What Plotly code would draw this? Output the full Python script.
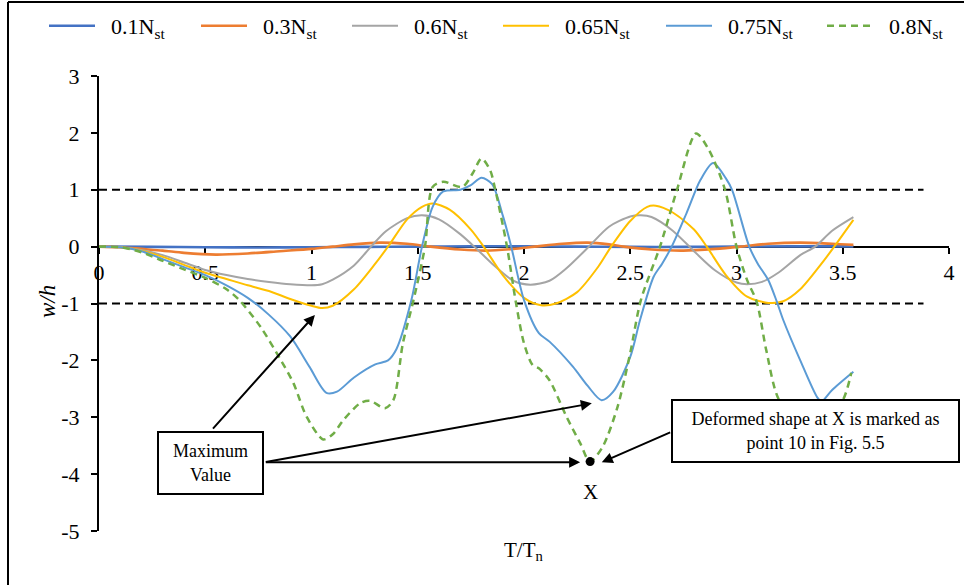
import plotly.graph_objects as go

FONT = "Liberation Serif"

# ---------------- data ----------------
x_01 = [0, 0.25, 0.5, 0.75, 1.0, 1.25, 1.5, 1.75, 2.0, 2.25, 2.5, 2.75, 3.0, 3.25, 3.55]
y_01 = [0, -0.005, -0.01, -0.015, -0.01, -0.005, 0, 0.005, 0.005, 0, -0.005, -0.005, 0, 0.005, 0.005]

x_03 = [0, 0.1, 0.2, 0.3, 0.4, 0.55, 0.7, 0.85, 1.0, 1.1, 1.2, 1.32, 1.45, 1.56, 1.7, 1.82,
        1.95, 2.05, 2.18, 2.3, 2.4, 2.47, 2.6, 2.75, 2.9, 3.02, 3.15, 3.3, 3.45, 3.55]
y_03 = [0, -0.01, -0.04, -0.07, -0.11, -0.14, -0.12, -0.08, -0.04, 0, 0.04, 0.07, 0.05, 0, -0.05, -0.07,
        -0.04, 0, 0.05, 0.07, 0.04, 0, -0.05, -0.07, -0.04, 0, 0.05, 0.07, 0.05, 0.03]

x_06 = [0, 0.1, 0.2, 0.3, 0.4, 0.5, 0.6, 0.7, 0.8, 0.9, 1.0, 1.05, 1.1, 1.2, 1.28, 1.35, 1.45, 1.52,
        1.6, 1.7, 1.78, 1.85, 1.95, 2.03, 2.12, 2.2, 2.3, 2.4, 2.5, 2.55, 2.6, 2.7, 2.8, 2.9, 3.0,
        3.05, 3.12, 3.2, 3.3, 3.37, 3.45, 3.55]
y_06 = [0, -0.01, -0.06, -0.15, -0.28, -0.41, -0.5, -0.57, -0.62, -0.66, -0.68, -0.66, -0.58, -0.33,
        0, 0.27, 0.5, 0.55, 0.48, 0.22, -0.05, -0.3, -0.6, -0.67, -0.6, -0.38, -0.02, 0.35, 0.53,
        0.55, 0.52, 0.28, -0.08, -0.42, -0.63, -0.66, -0.62, -0.45, -0.15, 0, 0.28, 0.52]

x_065 = [0, 0.1, 0.2, 0.3, 0.4, 0.5, 0.6, 0.7, 0.8, 0.9, 1.0, 1.05, 1.1, 1.2, 1.3, 1.36, 1.45, 1.52,
         1.57, 1.65, 1.75, 1.81, 1.9, 2.0, 2.08, 2.15, 2.25, 2.35, 2.41, 2.5, 2.58, 2.62, 2.7, 2.8,
         2.86, 2.95, 3.05, 3.15, 3.22, 3.3, 3.4, 3.46, 3.55]
y_065 = [0, -0.01, -0.07, -0.18, -0.32, -0.46, -0.57, -0.68, -0.78, -0.92, -1.04, -1.08, -1.04, -0.75,
         -0.3, 0, 0.48, 0.7, 0.76, 0.65, 0.3, 0, -0.5, -0.9, -1.03, -1.0, -0.8, -0.35, 0, 0.45, 0.7,
         0.72, 0.6, 0.3, 0, -0.5, -0.88, -0.99, -0.96, -0.75, -0.3, 0, 0.47]

x_075 = [0, 0.1, 0.2, 0.3, 0.4, 0.5, 0.6, 0.7, 0.8, 0.9, 0.99, 1.07, 1.12, 1.2, 1.3, 1.36, 1.4, 1.47,
         1.52, 1.57, 1.62, 1.7, 1.75, 1.8, 1.85, 1.9, 1.94, 2.0, 2.07, 2.12, 2.23, 2.3, 2.365, 2.42,
         2.5, 2.546, 2.61, 2.65, 2.695, 2.765, 2.83, 2.89, 2.95, 2.98, 3.06, 3.1, 3.15, 3.19, 3.22,
         3.3, 3.38, 3.4, 3.45, 3.55]
y_075 = [0, -0.01, -0.08, -0.22, -0.36, -0.5, -0.68, -0.9, -1.2, -1.58, -2.11, -2.57, -2.55, -2.3,
         -2.07, -2.0, -1.8, -0.94, 0, 0.7, 0.97, 1.0, 1.08, 1.21, 1.1, 0.55, 0, -0.94, -1.52, -1.67,
         -2.11, -2.45, -2.7, -2.55, -1.94, -1.29, -0.53, -0.3, 0, 0.59, 1.17, 1.47, 1.2, 0.99, 0,
         -0.3, -0.59, -0.97, -1.29, -2.0, -2.65, -2.72, -2.52, -2.2]

x_08 = [0, 0.1, 0.2, 0.3, 0.4, 0.5, 0.6, 0.66, 0.76, 0.85, 0.915, 0.977, 1.055, 1.1, 1.15, 1.23,
        1.275, 1.346, 1.385, 1.43, 1.48, 1.534, 1.57, 1.62, 1.71, 1.76, 1.8, 1.84, 1.865, 1.92,
        1.96, 2.0, 2.04, 2.07, 2.12, 2.2, 2.265, 2.31, 2.37, 2.44, 2.5, 2.55, 2.64, 2.72, 2.81,
        2.87, 2.946, 3.0, 3.05, 3.095, 3.14, 3.197, 3.3, 3.4, 3.5, 3.54]
y_08 = [0, -0.01, -0.1, -0.25, -0.4, -0.55, -0.75, -0.94, -1.41, -1.96, -2.4, -2.99, -3.39, -3.3,
        -3.05, -2.75, -2.71, -2.84, -2.7, -1.7, -0.94, 0, 1.05, 1.14, 1.05, 1.3, 1.55, 1.35, 1.0, 0,
        -0.94, -1.7, -2.08, -2.14, -2.35, -2.99, -3.46, -3.78, -3.52, -2.82, -1.87, -0.94, 0, 1.0,
        1.99, 1.7, 1.0, 0, -0.59, -0.97, -1.82, -2.67, -3.15, -3.1, -2.7, -2.22]

names = ["0.1N<sub>st</sub>", "0.3N<sub>st</sub>", "0.6N<sub>st</sub>",
         "0.65N<sub>st</sub>", "0.75N<sub>st</sub>", "0.8N<sub>st</sub>"]
colors = ["#4472C4", "#ED7D31", "#A5A5A5", "#FFC000", "#5B9BD5", "#70AD47"]

x_tickvals = [0, 0.5, 1, 1.5, 2, 2.5, 3, 3.5, 4]
x_ticktext = ["0", "0.5", "1", "1.5", "2", "2.5", "3", "3.5", "4"]
y_tickvals = [3, 2, 1, 0, -1, -2, -3, -4, -5]
y_ticktext = ["3", "2", "1", "0", "-1", "-2", "-3", "-4", "-5"]

limit_x = [0, 3.88]
limit_up = [1, 1]
limit_dn = [-1, -1]

# annotation reference points (data coords)
point_X = (2.311, -3.78)
yellow_peak = (1.016, -1.20)
blue_peak = (2.319, -2.756)
box1_center = (0.527, -3.80)
box2_center = (3.373, -3.243)

legend_x_px = [51, 203, 354, 505, 668, 829]

# ---------------- figure ----------------
W, H = 964, 585
ML, MR, MT, MB = 99, 15, 76, 54
PW, PH = W - ML - MR, H - MT - MB


def px_to_paper_x(px):
    return (px - ML) / PW


def px_to_paper_y(py):
    return (H - MB - py) / PH


fig = go.Figure()

for yy in (limit_up, limit_dn):
    fig.add_trace(go.Scatter(x=limit_x, y=yy, mode="lines", showlegend=False,
                             line=dict(color="black", width=2, dash="8px,5px"),
                             hoverinfo="skip"))

series = [(x_01, y_01), (x_03, y_03), (x_06, y_06), (x_065, y_065), (x_075, y_075), (x_08, y_08)]
widths = [2.6, 2.6, 2, 2, 2, 2.5]
for i, ((xs, ys), nm, col, w) in enumerate(zip(series, names, colors, widths)):
    leg = "legend" if i == 0 else f"legend{i + 1}"
    fig.add_trace(go.Scatter(
        x=xs, y=ys, mode="lines", name="&nbsp;&nbsp;" + nm, legend=leg,
        line=dict(color=col, width=w, shape="spline", smoothing=0.8,
                  dash="7px,5px" if i == 5 else "solid")))

# point X
fig.add_trace(go.Scatter(x=[point_X[0]], y=[point_X[1]], mode="markers", showlegend=False,
                         marker=dict(color="black", size=9)))

legend_common = dict(orientation="h", xanchor="left", yanchor="middle",
                     y=px_to_paper_y(26), bgcolor="rgba(0,0,0,0)", itemwidth=46,
                     font=dict(family=FONT, size=22, color="black"))
layout_legends = {}
for i, lx in enumerate(legend_x_px):
    key = "legend" if i == 0 else f"legend{i + 1}"
    layout_legends[key] = dict(legend_common, x=px_to_paper_x(lx - 7))

axis_font = dict(family=FONT, size=22, color="black")
fig.update_layout(
    width=W, height=H,
    margin=dict(l=ML, r=MR, t=MT, b=MB, autoexpand=False),
    paper_bgcolor="white", plot_bgcolor="white",
    showlegend=True,
    xaxis=dict(range=[0, 4], tickvals=x_tickvals, ticktext=x_ticktext, anchor="free",
               position=5 / 8,
               showline=True, linecolor="black", linewidth=2, ticks="outside", ticklen=6,
               tickwidth=2, tickcolor="black", showgrid=False, zeroline=False,
               tickfont=axis_font, layer="below traces", ticklabelstandoff=0),
    yaxis=dict(range=[-5, 3], tickvals=y_tickvals, ticktext=y_ticktext, showline=True,
               linecolor="black", linewidth=2,
               ticks="outside", ticklen=6, tickwidth=2, tickcolor="black", showgrid=False,
               zeroline=False, tickfont=axis_font, layer="below traces", ticklabelstandoff=7),
    **layout_legends,
)

ann_font = dict(family=FONT, size=18, color="black")
arrow_common = dict(xref="x", yref="y", axref="x", ayref="y", text="", showarrow=True,
                    arrowhead=2, arrowsize=1.1, arrowwidth=2, arrowcolor="black",
                    standoff=0, startstandoff=0)
fig.add_annotation(x=yellow_peak[0], y=yellow_peak[1], ax=0.530, ay=-3.225, **arrow_common)
fig.add_annotation(x=blue_peak[0], y=blue_peak[1], ax=0.778, ay=-3.793, **arrow_common)
fig.add_annotation(x=point_X[0] - 0.047, y=point_X[1] - 0.013, ax=0.778, ay=-3.793, **arrow_common)
fig.add_annotation(x=point_X[0] + 0.055, y=point_X[1] - 0.013, ax=2.695, ay=-3.255, **arrow_common)

fig.add_annotation(x=box1_center[0], y=box1_center[1], xref="x", yref="y",
                   text="Maximum<br>Value", showarrow=False, font=ann_font,
                   width=103, height=60, bgcolor="white", bordercolor="black",
                   borderwidth=2, borderpad=0, align="center")
fig.add_annotation(x=box2_center[0], y=box2_center[1], xref="x", yref="y",
                   text="Deformed shape at X is marked as<br>point 10 in Fig. 5.5",
                   showarrow=False, font=ann_font, width=285, height=60, bgcolor="white",
                   bordercolor="black", borderwidth=2, borderpad=0, align="center")
fig.add_annotation(x=point_X[0], y=point_X[1], xref="x", yref="y", text="X", showarrow=False,
                   yshift=-30, font=dict(family=FONT, size=21, color="black"))

# axis titles
fig.add_annotation(x=0.5, y=px_to_paper_y(551), xref="paper", yref="paper",
                   text="T/T<sub>n</sub>", showarrow=False, xanchor="center", yanchor="middle",
                   font=dict(family=FONT, size=21, color="black"))
fig.add_annotation(x=px_to_paper_x(47), y=px_to_paper_y(302), xref="paper", yref="paper",
                   text="<i>w/h</i>", showarrow=False, textangle=-90,
                   xanchor="center", yanchor="middle",
                   font=dict(family=FONT, size=23, color="black"))

# outer frame (left and top edges)
fx = px_to_paper_x(8)
fy = px_to_paper_y(2)
fig.add_shape(type="line", xref="paper", yref="paper", x0=fx, x1=fx, y0=px_to_paper_y(600), y1=fy,
              line=dict(color="black", width=2))
fig.add_shape(type="line", xref="paper", yref="paper", x0=fx, x1=px_to_paper_x(980), y0=fy, y1=fy,
              line=dict(color="black", width=2))

fig.write_html("out.html")
